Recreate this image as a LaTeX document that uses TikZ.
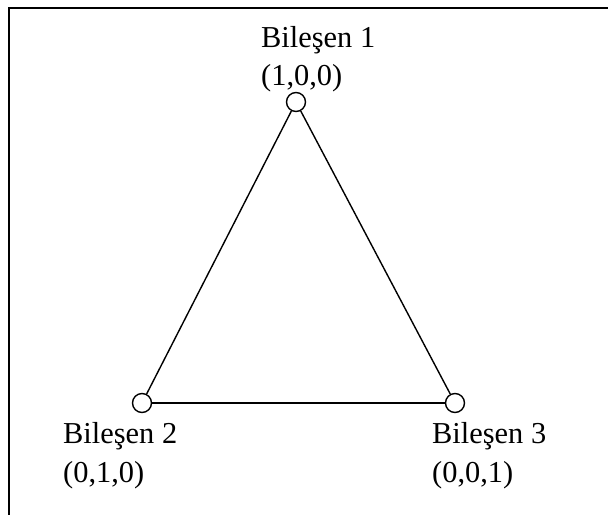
\documentclass[tikz,border=0pt]{standalone}
\usepackage{fontspec}
\setmainfont{Liberation Serif}
\usepackage{tikz}

\begin{document}
\begin{tikzpicture}[x=1pt, y=-1pt,
    vertex/.style={circle, draw, line width=1.4pt, fill=white, minimum size=19pt, inner sep=0pt},
    lbl/.style={anchor=base west, inner sep=0pt, font=\fontsize{30.4}{38}\selectfont}]
    \useasboundingbox (0,0) rectangle (608,515);

    % Frame (top and left side only)
    \draw[line width=2pt] (608,8) -- (9,8) -- (9,515);

    % Corners of the triangle
    \node[vertex] (v1) at (296,102) {};
    \node[vertex] (v2) at (142,403) {};
    \node[vertex] (v3) at (455,403) {};

    % Sides
    \draw[line width=1.4pt] (v1) -- (v2);
    \draw[line width=1.4pt] (v2) -- (v3);
    \draw[line width=1.4pt] (v3) -- (v1);

    % Labels of the components
    \node[lbl] (n1) at (261,47) {Bileşen 1};
    \node[lbl] (c1) at (261,85) {(1,0,0)};
    \node[lbl] (n2) at (63,443) {Bileşen 2};
    \node[lbl] (c2) at (63,482) {(0,1,0)};
    \node[lbl] (n3) at (432,443) {Bileşen 3};
    \node[lbl] (c3) at (432,482) {(0,0,1)};
\end{tikzpicture}
\end{document}
